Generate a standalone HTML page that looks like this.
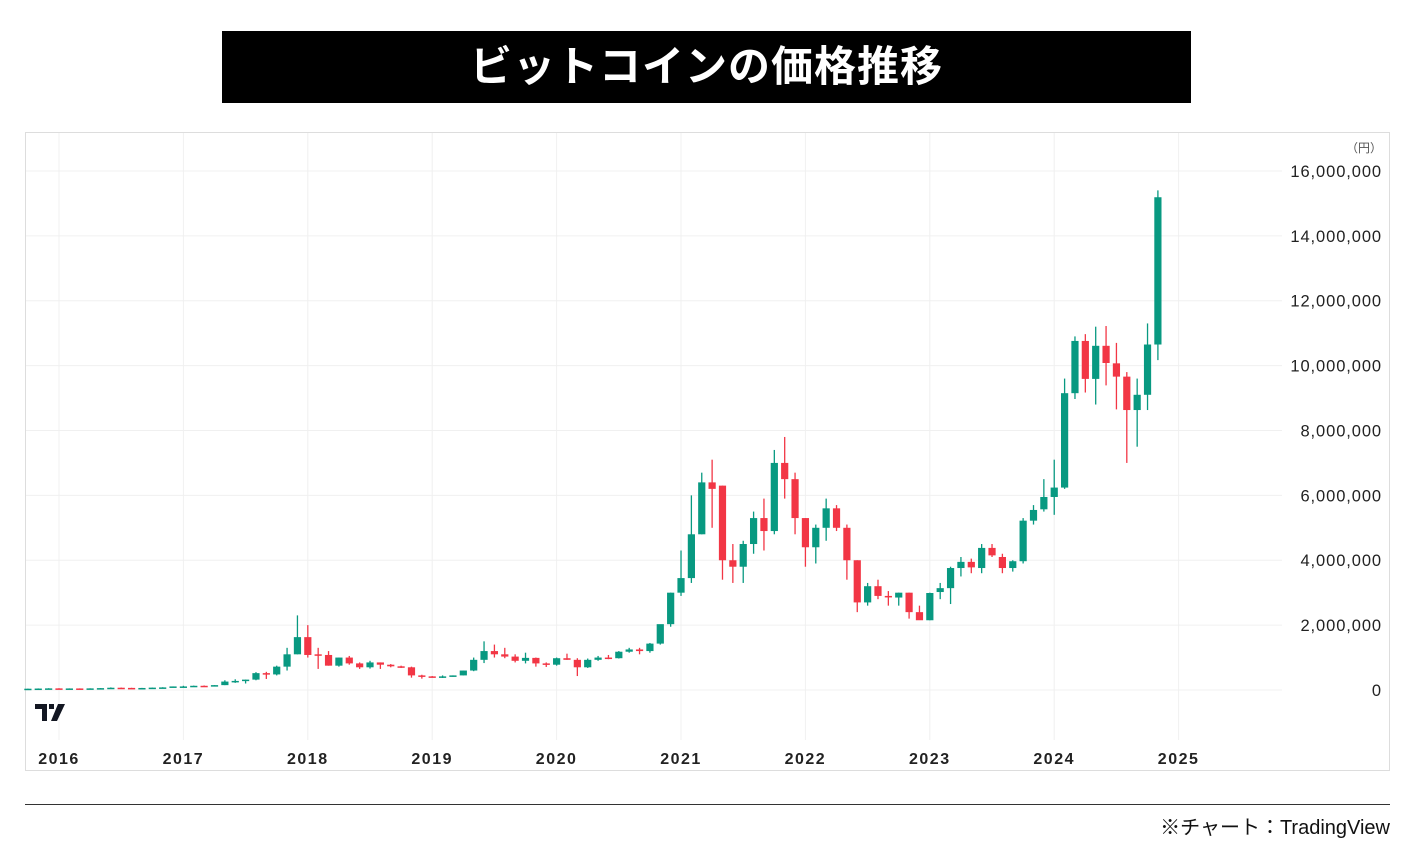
<!DOCTYPE html>
<html><head><meta charset="utf-8"><style>
body{margin:0;width:1414px;height:850px;background:#fff;overflow:hidden;font-family:"Liberation Sans","Noto Sans CJK JP",sans-serif}
#t{position:absolute;left:222px;top:31px;width:969px;height:72px;background:#000;color:#fff;font:bold 42px "Liberation Sans","Noto Sans CJK JP",sans-serif;text-align:center;line-height:72px;letter-spacing:1px}
#src{position:absolute;right:24px;top:811px;font-size:20px;color:#111}
#ln{position:absolute;left:25px;top:804px;width:1365px;height:1px;background:#333}
svg{position:absolute;left:0;top:0}
</style></head><body>
<div id="t">ビットコインの価格推移</div>
<svg id="s" width="1414" height="850"></svg>
<div id="ln"></div>
<div id="src">※チャート：TradingView</div>
<script>
var d=[[.03,.04,.03,.04],[.04,.05,.04,.045],[.045,.055,.04,.05],
[.05,.055,.045,.045],[.045,.05,.04,.048],[.048,.05,.045,.046],[.046,.052,.045,.05],[.05,.06,.048,.058],[.058,.08,.055,.07],[.07,.075,.06,.065],[.065,.068,.055,.06],[.06,.065,.058,.063],[.063,.075,.062,.073],[.073,.085,.07,.08],[.08,.11,.08,.11],
[.11,.13,.09,.11],[.11,.135,.11,.13],[.13,.14,.1,.12],[.12,.15,.11,.15],[.15,.3,.15,.26],[.26,.33,.22,.28],[.28,.32,.2,.32],[.32,.55,.3,.52],[.52,.56,.34,.48],[.48,.75,.45,.72],[.72,1.3,.6,1.1],[1.1,2.3,1.1,1.63],
[1.63,2.0,1.0,1.08],[1.1,1.3,.65,1.08],[1.08,1.2,.75,.75],[.75,1.0,.72,1.0],[1.0,1.05,.78,.82],[.82,.85,.65,.7],[.7,.9,.66,.85],[.85,.85,.65,.78],[.78,.8,.7,.73],[.73,.75,.68,.7],[.7,.72,.38,.45],[.45,.47,.35,.42],
[.42,.43,.38,.38],[.38,.45,.37,.42],[.42,.45,.41,.45],[.45,.6,.45,.6],[.6,1.0,.58,.93],[.93,1.5,.83,1.2],[1.2,1.4,1.0,1.1],[1.1,1.3,.98,1.03],[1.03,1.1,.85,.9],[.9,1.15,.82,.99],[.99,1.0,.72,.82],[.82,.85,.71,.78],
[.78,1.0,.75,.98],[.98,1.12,.93,.93],[.93,.98,.43,.7],[.7,.97,.68,.93],[.93,1.05,.9,1.0],[1.0,1.08,.95,.98],[.98,1.2,.97,1.18],[1.18,1.3,1.15,1.25],[1.25,1.3,1.1,1.2],[1.2,1.45,1.15,1.43],[1.43,2.0,1.4,2.03],[2.03,3.0,1.95,3.0],
[3.0,4.3,2.9,3.45],[3.45,6.0,3.3,4.8],[4.8,6.7,4.8,6.4],[6.4,7.1,5.0,6.2],[6.3,6.3,3.4,4.0],[4.0,4.5,3.3,3.8],[3.8,4.6,3.3,4.5],[4.5,5.5,4.2,5.3],[5.3,5.9,4.3,4.9],[4.9,7.4,4.8,7.0],[7.0,7.8,5.9,6.5],[6.5,6.7,4.8,5.3],
[5.3,5.3,3.8,4.4],[4.4,5.1,3.9,5.0],[5.0,5.9,4.6,5.6],[5.6,5.7,4.9,5.0],[5.0,5.1,3.4,4.0],[4.0,4.0,2.4,2.7],[2.7,3.3,2.6,3.2],[3.2,3.4,2.8,2.9],[2.9,3.05,2.6,2.86],[2.85,3.0,2.6,3.0],[3.0,3.0,2.2,2.4],[2.4,2.6,2.2,2.15],
[2.15,3.0,2.15,2.99],[3.02,3.3,2.8,3.14],[3.14,3.8,2.65,3.76],[3.76,4.1,3.5,3.95],[3.95,4.05,3.6,3.78],[3.76,4.5,3.6,4.38],[4.38,4.5,4.1,4.15],[4.1,4.2,3.6,3.76],[3.76,4.0,3.65,3.97],[3.97,5.3,3.9,5.22],[5.22,5.7,5.1,5.55],[5.57,6.5,5.5,5.95],
[5.95,7.1,5.4,6.24],[6.24,9.6,6.2,9.15],[9.15,10.9,8.97,10.76],[10.76,10.97,9.17,9.59],[9.59,11.2,8.8,10.61],[10.61,11.22,9.39,10.08],[10.07,10.7,8.65,9.66],[9.66,9.8,7.0,8.63],[8.63,9.6,7.5,9.1],[9.1,11.3,8.63,10.65],[10.65,15.4,10.17,15.19]];
var Y=v=>690-v*32.44, s='';
s+='<rect x="25.5" y="132.5" width="1364" height="638" fill="none" stroke="#ddd"/>';
for(var i=0;i<=8;i++){var y=Y(i*2);s+='<line x1="26" x2="1282" y1="'+y+'" y2="'+y+'" stroke="#f0f0f0"/>';
s+='<text x="1382" y="'+(y+6)+'" text-anchor="end" font-size="16.5" letter-spacing="0.9" fill="#222">'+(i?(i*2)+',000,000':'0')+'</text>';}
for(var k=0;k<10;k++){var x=59+k*124.4;s+='<line x1="'+x+'" x2="'+x+'" y1="133" y2="740" stroke="#f0f0f0"/>';
s+='<text x="'+x+'" y="764" text-anchor="middle" font-size="16" letter-spacing="1.5" font-weight="bold" fill="#222">'+(2016+k)+'</text>';}
s+='<text x="1382" y="152" text-anchor="end" font-size="12" fill="#555">（円）</text>';
d.forEach((c,i)=>{var x=59+(i-3)*10.367,o=c[0],h=c[1],l=c[2],cl=c[3],col=cl>=o?'#089981':'#F23645';
var t=Y(Math.max(o,cl)),b=Y(Math.min(o,cl));if(b-t<1.5){b=t+1.5;}
s+='<line x1="'+x+'" x2="'+x+'" y1="'+Y(h)+'" y2="'+Y(l)+'" stroke="'+col+'" stroke-width="1.3"/>';
s+='<rect x="'+(x-3.6)+'" y="'+t+'" width="7.2" height="'+(b-t)+'" fill="'+col+'"/>';});
s+='<path d="M35 704h12v17h-5v-12h-7z M49 704h5v5h-5z M58 704h7l-8 17h-6z" fill="#131722"/>';
document.getElementById('s').innerHTML=s;
</script>
</body></html>
